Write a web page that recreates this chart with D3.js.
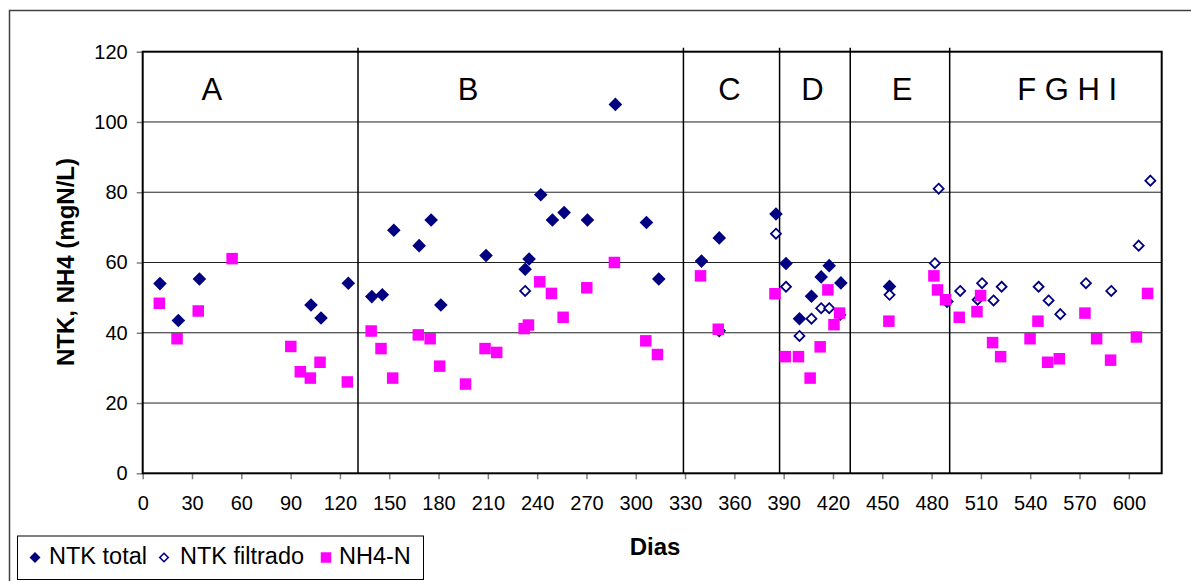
<!DOCTYPE html>
<html>
<head>
<meta charset="utf-8">
<script src="https://cdn.jsdelivr.net/npm/d3@7"></script>
<style>
  body { margin: 0; background: #fff; }
  text { font-family: "Liberation Sans", Arial, sans-serif; }
</style>
</head>
<body>
<svg id="chart"></svg>
<script>
// [dia, valor]
const ntkTotal = [
  [10.5, 54.0], [21.7, 43.5], [34.5, 55.3], [102.4, 47.9], [108.5, 44.2], [125.1, 54.1],
  [139.4, 50.3], [145.8, 50.8], [152.8, 69.2], [168.2, 64.8], [175.5, 72.1], [181.4, 47.9],
  [208.9, 62.0], [232.7, 58.1], [235.1, 61.0], [242.2, 79.3], [249.3, 72.1], [256.4, 74.2],
  [270.6, 72.1], [287.6, 105.0], [306.5, 71.4], [314, 55.3], [340, 60.4], [350.8, 40.6],
  [350.8, 67.0], [385.3, 73.8], [391.4, 59.7], [399.6, 44.0], [406.9, 50.4], [412.8, 55.9],
  [417.7, 59.1], [424.8, 54.2], [454.4, 53.2], [489.4, 48.9]
];
const ntkFiltrado = [
  [232.7, 51.9], [385.3, 68.2], [391.4, 53.1], [399.6, 39.1], [406.9, 44.0], [412.8, 47.0],
  [417.7, 47.0], [424.4, 45.1], [454.4, 50.8], [482, 59.8], [484.3, 81.0], [497.4, 51.9],
  [508, 49.4], [510.7, 54.1], [517.7, 49.2], [522.6, 53.1], [545.1, 53.1], [551.2, 49.2],
  [558.3, 45.3], [573.9, 54.1], [589.3, 51.9], [606, 64.8], [613.1, 83.3]
];
const nh4 = [
  [10.1, 48.4], [20.9, 38.3], [33.8, 46.2], [54.4, 61.1], [90.1, 36.1], [95.9, 28.9],
  [102, 27.1], [107.9, 31.6], [124.5, 26.0], [139, 40.5], [145, 35.5], [152.1, 27.1],
  [167.7, 39.4], [174.9, 38.3], [180.7, 30.5], [196.4, 25.4], [208.3, 35.5], [215.4, 34.4],
  [232.1, 41.2], [234.7, 42.2], [241.6, 54.5], [248.7, 51.2], [255.8, 44.4], [270.2, 52.8],
  [287, 60.0], [306.1, 37.7], [313.2, 33.8], [339.4, 56.2], [350.2, 41.0], [384.7, 51.1],
  [391, 33.2], [399, 33.2], [406.1, 27.1], [412.2, 36.0], [416.9, 52.2], [420.6, 42.3],
  [424, 45.6], [454, 43.3], [481.4, 56.2], [483.6, 52.2], [488.5, 49.4], [496.8, 44.4],
  [507.6, 46.0], [509.8, 50.6], [517.1, 37.2], [522, 33.2], [539.9, 38.3], [544.7, 43.3],
  [550.6, 31.6], [557.7, 32.6], [573.3, 45.6], [580.4, 38.3], [588.9, 32.2], [604.6, 38.8],
  [611.4, 51.2]
];

// fases
const phaseBounds = [131, 329, 387.5, 430.5, 491];
const phaseLabels = ["A", "B", "C", "D", "E", "F G H I"];
const phaseLabelDays = [42, 198, 357, 407.5, 462, 562.5];

const xTicks = d3.range(0, 601, 30);
const yTicks = d3.range(0, 121, 20);

const width = 1191, height = 581;
const plot = {left: 142.7, right: 1161.7, top: 51.7, bottom: 473.3};

const svg = d3.select("#chart")
  .attr("width", width)
  .attr("height", height);

const x = d3.scaleLinear().domain([0, 620]).range([plot.left, plot.right]);
const y = d3.scaleLinear().domain([0, 120]).range([plot.bottom, plot.top]);

// outer chart border (runs off the right/bottom edge)
svg.append("path")
  .attr("d", `M9.5,${height + 5}V10.5H${width + 5}`)
  .attr("fill", "none")
  .attr("stroke", "#404040")
  .attr("stroke-width", 1.5);

// gridlines
svg.append("g")
  .selectAll("line")
  .data(yTicks.filter(d => d > 0 && d < 120))
  .join("line")
  .attr("x1", plot.left).attr("x2", plot.right)
  .attr("y1", d => y(d)).attr("y2", d => y(d))
  .attr("stroke", "#222")
  .attr("stroke-width", 1);

// axes
const xAxis = svg.append("g")
  .attr("transform", `translate(0,${plot.bottom})`)
  .call(d3.axisBottom(x).tickValues(xTicks).tickSize(6).tickPadding(17));
const yAxis = svg.append("g")
  .attr("transform", `translate(${plot.left},0)`)
  .call(d3.axisLeft(y).tickValues(yTicks).tickSize(6).tickPadding(9));
[xAxis, yAxis].forEach(a => {
  a.select(".domain").remove();
  a.selectAll(".tick line").attr("stroke", "#808080").attr("stroke-width", 1.5);
  a.selectAll(".tick text")
    .attr("fill", "#000")
    .style("font-size", "20px")
    .style("font-family", "'Liberation Sans', Arial, sans-serif");
});

// plot frame
svg.append("rect")
  .attr("x", plot.left).attr("y", plot.top)
  .attr("width", plot.right - plot.left)
  .attr("height", plot.bottom - plot.top)
  .attr("fill", "none")
  .attr("stroke", "#000")
  .attr("stroke-width", 2);

// phase dividers
svg.append("g")
  .selectAll("line")
  .data(phaseBounds)
  .join("line")
  .attr("x1", d => x(d)).attr("x2", d => x(d))
  .attr("y1", plot.top - 4).attr("y2", plot.bottom)
  .attr("stroke", "#000")
  .attr("stroke-width", 1.5);

svg.append("g")
  .selectAll("text")
  .data(phaseLabels)
  .join("text")
  .attr("x", (d, i) => x(phaseLabelDays[i]))
  .attr("y", y(106.3))
  .attr("text-anchor", "middle")
  .style("font-size", "31px")
  .text(d => d);

// markers
const diamond = r => `M0,${-r}L${r},0L0,${r}L${-r},0Z`;
const square = s => `M${-s / 2},${-s / 2}h${s}v${s}h${-s}Z`;

svg.append("g")
  .selectAll("path")
  .data(ntkTotal)
  .join("path")
  .attr("transform", d => `translate(${x(d[0])},${y(d[1])})`)
  .attr("d", diamond(6.8))
  .attr("fill", "#000080");

svg.append("g")
  .selectAll("path")
  .data(ntkFiltrado)
  .join("path")
  .attr("transform", d => `translate(${x(d[0])},${y(d[1])})`)
  .attr("d", diamond(5))
  .attr("fill", "#fff")
  .attr("stroke", "#000080")
  .attr("stroke-width", 1.8);

svg.append("g")
  .selectAll("path")
  .data(nh4)
  .join("path")
  .attr("transform", d => `translate(${x(d[0])},${y(d[1])})`)
  .attr("d", square(11.5))
  .attr("fill", "#ff00ff");

// axis titles
svg.append("text")
  .attr("transform", "translate(73.5,262) rotate(-90)")
  .attr("text-anchor", "middle")
  .style("font-size", "24px")
  .style("font-weight", "bold")
  .text("NTK, NH4 (mgN/L)");

svg.append("text")
  .attr("x", 655).attr("y", 555)
  .attr("text-anchor", "middle")
  .style("font-size", "24px")
  .style("font-weight", "bold")
  .text("Dias");

// legend
const legend = svg.append("g");
legend.append("rect")
  .attr("x", 17.5).attr("y", 536)
  .attr("width", 406).attr("height", 43.5)
  .attr("fill", "#fff")
  .attr("stroke", "#000")
  .attr("stroke-width", 1);

const legendItems = [
  {name: "NTK total", mx: 35, tx: 49, d: diamond(5.5), fill: "#000080", stroke: "none"},
  {name: "NTK filtrado", mx: 164, tx: 180, d: diamond(4.2), fill: "#fff", stroke: "#000080"},
  {name: "NH4-N", mx: 326, tx: 339, d: square(10.5), fill: "#ff00ff", stroke: "none"}
];
const li = legend.selectAll("g")
  .data(legendItems)
  .join("g");
li.append("path")
  .attr("transform", d => `translate(${d.mx},557.5)`)
  .attr("d", d => d.d)
  .attr("fill", d => d.fill)
  .attr("stroke", d => d.stroke)
  .attr("stroke-width", 1.6);
li.append("text")
  .attr("x", d => d.tx).attr("y", 564)
  .style("font-size", "23.5px")
  .text(d => d.name);
</script>
</body>
</html>
